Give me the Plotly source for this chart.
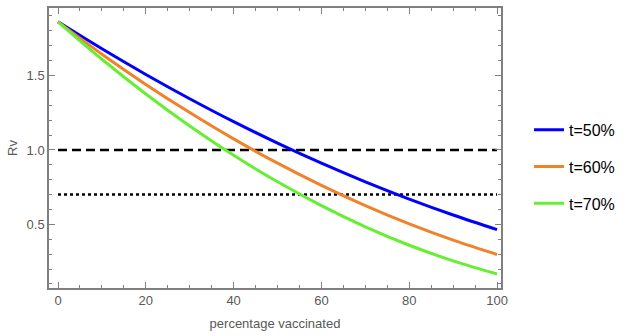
import plotly.graph_objects as go

pct = [0, 10, 20, 30, 40, 50, 60, 70, 80, 90, 100]
rv_t50 = [1.860, 1.679, 1.507, 1.344, 1.190, 1.046, 0.911, 0.786, 0.670, 0.563, 0.465]
rv_t60 = [1.860, 1.643, 1.440, 1.251, 1.074, 0.911, 0.762, 0.626, 0.503, 0.394, 0.298]
rv_t70 = [1.860, 1.609, 1.376, 1.161, 0.964, 0.786, 0.626, 0.484, 0.360, 0.255, 0.167]
names = ["t=50%", "t=60%", "t=70%"]
colors = ["#0000ff", "#f0822a", "#66ee33"]
thresholds_x = [0, 100]
threshold_dash = [1.0, 1.0]
threshold_dot = [0.7, 0.7]

fig = go.Figure()
fig.add_trace(go.Scatter(x=thresholds_x, y=threshold_dash, mode="lines",
                         line=dict(color="black", width=2.5, dash="9px,5px"), showlegend=False))
fig.add_trace(go.Scatter(x=thresholds_x, y=threshold_dot, mode="lines",
                         line=dict(color="black", width=2.5, dash="3px,3px"), showlegend=False))
for ys, n, c in zip([rv_t50, rv_t60, rv_t70], names, colors):
    fig.add_trace(go.Scatter(x=pct, y=ys, mode="lines", name=n, legendgroup=n,
                             line=dict(color=c, width=3, shape="spline")))

font_axis = dict(family="Liberation Sans, Arial", size=13, color="#595959")
axis_common = dict(showgrid=False, zeroline=False, showline=True, linecolor="#808080",
                   linewidth=1.5, mirror="ticks", ticks="inside", tickcolor="#808080",
                   tickwidth=1, ticklen=6, tickfont=font_axis)
fig.update_xaxes(range=[-2.05, 100.9], tickvals=[0, 20, 40, 60, 80, 100],
                 minor=dict(tickvals=list(range(0, 101, 5)), ticks="inside", ticklen=3, tickcolor="#808080"),
                 title=dict(text="percentage vaccinated", font=font_axis, standoff=12),
                 **axis_common)
fig.update_yaxes(range=[0.073, 1.953], tickvals=[0.5, 1.0, 1.5], ticktext=["0.5", "1.0", "1.5"],
                 minor=dict(tickvals=[round(0.1 * i, 1) for i in range(1, 20)], ticks="inside", ticklen=3, tickcolor="#808080"),
                 title=dict(text="Rv", font=font_axis, standoff=6),
                 **axis_common)
fig.update_layout(width=635, height=336, margin=dict(l=49, r=134, t=6, b=48),
                  plot_bgcolor="white", paper_bgcolor="white",
                  legend=dict(x=1.062, y=0.433, xanchor="left", yanchor="middle",
                              font=dict(family="Liberation Sans, Arial", size=16, color="black"),
                              itemwidth=30, tracegroupgap=13, bgcolor="rgba(0,0,0,0)"))
fig.write_html("out.html")
